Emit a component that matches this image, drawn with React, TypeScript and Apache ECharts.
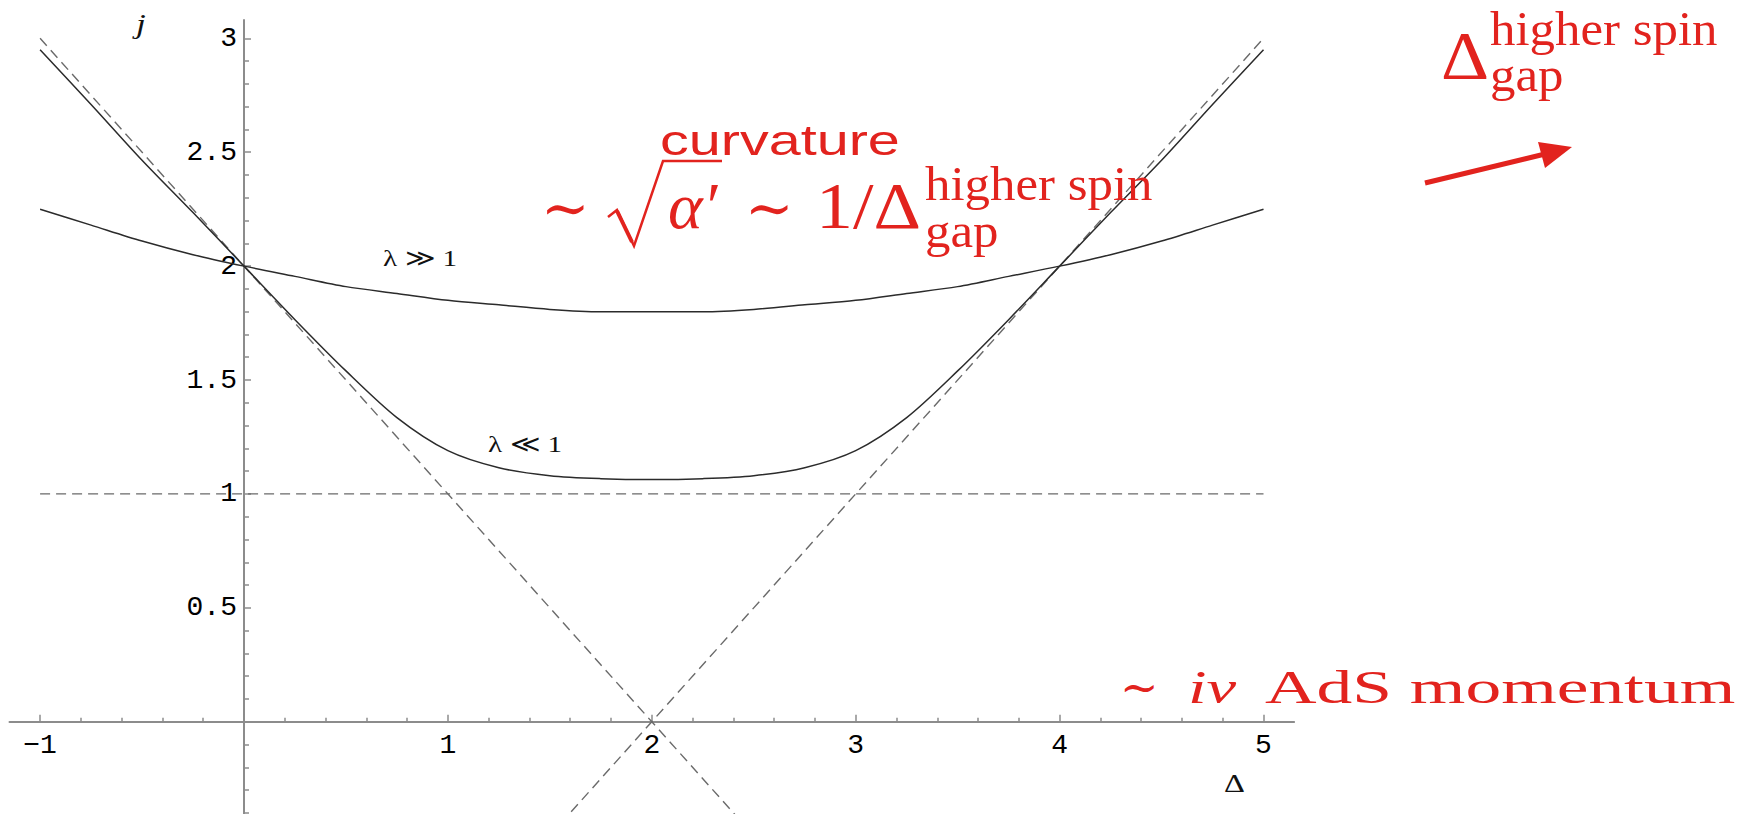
import React, { useEffect, useRef } from 'react';
import * as echarts from 'echarts';

// Conformal dimension Δ sampled along both trajectories
const deltaValues = [-1, -0.75, -0.5, -0.25, 0, 0.25, 0.5, 0.75, 1, 1.25, 1.5, 1.75, 2, 2.25, 2.5, 2.75, 3, 3.25, 3.5, 3.75, 4, 4.25, 4.5, 4.75, 5];
// Spin j on the strong-coupling trajectory (λ ≫ 1)
const jStrong = [2.25, 2.18, 2.11, 2.05, 2.0, 1.955, 1.91, 1.88, 1.85, 1.83, 1.81, 1.8, 1.8, 1.8, 1.81, 1.83, 1.85, 1.88, 1.91, 1.955, 2.0, 2.05, 2.11, 2.18, 2.25];
// Spin j on the weak-coupling trajectory (λ ≪ 1)
const jWeak = [2.95, 2.71, 2.465, 2.235, 2.0, 1.765, 1.54, 1.335, 1.19, 1.115, 1.08, 1.067, 1.063, 1.067, 1.08, 1.115, 1.19, 1.335, 1.54, 1.765, 2.0, 2.235, 2.465, 2.71, 2.95];

// Dashed asymptotes: j = 2 − Δ, j = Δ − 2 and j = 1
const asymptoteFalling = [[-1, 3], [2, 0], [2.5, -0.5]];
const asymptoteRising = [[1.5, -0.5], [2, 0], [5, 3]];
const asymptoteFlat = [[-1, 1], [5, 1]];

// Axis ticks and labels
const xMajorTicks = [-1, 0, 1, 2, 3, 4, 5];
const xTickLabels = [-1, 1, 2, 3, 4, 5];
const xMinorTicks = [-0.8, -0.6, -0.4, -0.2, 0.2, 0.4, 0.6, 0.8, 1.2, 1.4, 1.6, 1.8, 2.2, 2.4, 2.6, 2.8, 3.2, 3.4, 3.6, 3.8, 4.2, 4.4, 4.6, 4.8];
const yMajorTicks = [0.5, 1, 1.5, 2, 2.5, 3];
const yMinorTicks = [-0.4, -0.3, -0.2, -0.1, 0.1, 0.2, 0.3, 0.4, 0.6, 0.7, 0.8, 0.9, 1.1, 1.2, 1.3, 1.4, 1.6, 1.7, 1.8, 1.9, 2.1, 2.2, 2.3, 2.4, 2.6, 2.7, 2.8, 2.9];

const RED = '#e2231e';
const AXIS_GREY = '#8c8c8c';
const SERIF = "'Liberation Serif', 'DejaVu Serif', serif";
const SANS = "'Liberation Sans', Arial, sans-serif";
const MATH = "'DejaVu Serif', 'Liberation Serif', serif";

// Plot frame in pixels and the data window it shows
const X_MIN = -1.15, X_MAX = 5.15, Y_MIN = -0.42, Y_MAX = 3.08;
const PLOT = { left: 9.5, top: 20.1, width: 1284.6, height: 797.3 };
const ORIGIN_X = PLOT.left + ((0 - X_MIN) / (X_MAX - X_MIN)) * PLOT.width;
const ORIGIN_Y = PLOT.top + ((Y_MAX - 0) / (Y_MAX - Y_MIN)) * PLOT.height;

// Text placed by its left edge and alphabetic baseline, optionally stretched horizontally
function txt(text: string, left: number, baseline: number, size: number, opts: any = {}) {
  const family = opts.family || SERIF;
  const shift = family === SANS ? 0.3465 : 0.3375;
  return {
    type: 'text',
    x: left,
    y: baseline - shift * size,
    scaleX: opts.scaleX ?? 1,
    silent: true,
    z: 10,
    style: {
      text,
      font: `${opts.italic ? 'italic ' : ''}${size}px ${family}`,
      fill: opts.color || RED,
      textAlign: 'left',
      textVerticalAlign: 'middle',
    },
  };
}

const fmt = (v: number) => (v < 0 ? '\u2212' + Math.abs(v) : String(v));

function buildOption(): any {
  const tickLabelStyle = {
    fontFamily: "'Liberation Mono', 'DejaVu Sans Mono', monospace",
    fontSize: 28,
    color: '#000',
  };
  const gridBase = { containLabel: false, outerBoundsMode: 'none' };
  // 0: data frame, 1–2: frame whose bottom edge is j = 0, 3–4: frame whose left edge is Δ = 0
  const xGrid = { ...gridBase, left: PLOT.left, top: PLOT.top, width: PLOT.width, height: ORIGIN_Y - PLOT.top };
  const yGrid = { ...gridBase, left: ORIGIN_X, top: PLOT.top, width: 1000, height: PLOT.height };
  const grids = [{ ...gridBase, ...PLOT }, xGrid, xGrid, yGrid, yGrid];

  const hiddenX = (gridIndex: number) => ({ type: 'value', gridIndex, min: X_MIN, max: X_MAX, show: false });
  const hiddenY = (gridIndex: number) => ({ type: 'value', gridIndex, min: Y_MIN, max: Y_MAX, show: false });
  const line = { color: AXIS_GREY, width: 1.5 };

  const xAxes = [
    hiddenX(0),
    {
      type: 'value', gridIndex: 1, min: X_MIN, max: X_MAX, position: 'bottom', splitLine: { show: false },
      axisLine: { show: true, onZero: false, lineStyle: { color: AXIS_GREY, width: 2 } },
      axisTick: { show: true, inside: true, length: 7, customValues: xMajorTicks, lineStyle: line },
      axisLabel: { show: true, customValues: xTickLabels, formatter: fmt, margin: 10, ...tickLabelStyle },
    },
    {
      type: 'value', gridIndex: 2, min: X_MIN, max: X_MAX, position: 'bottom', splitLine: { show: false },
      axisLine: { show: false, onZero: false },
      axisTick: { show: true, inside: true, length: 4, customValues: xMinorTicks, lineStyle: line },
      axisLabel: { show: false },
    },
    hiddenX(3),
    hiddenX(4),
  ];
  const yAxes = [
    hiddenY(0),
    hiddenY(1),
    hiddenY(2),
    {
      type: 'value', gridIndex: 3, min: Y_MIN, max: Y_MAX, position: 'left', splitLine: { show: false },
      axisLine: { show: true, onZero: false, lineStyle: { color: AXIS_GREY, width: 2 } },
      axisTick: { show: true, inside: true, length: 7, customValues: yMajorTicks, lineStyle: line },
      axisLabel: { show: true, customValues: yMajorTicks, formatter: fmt, margin: 7, ...tickLabelStyle },
    },
    {
      type: 'value', gridIndex: 4, min: Y_MIN, max: Y_MAX, position: 'left', splitLine: { show: false },
      axisLine: { show: false, onZero: false },
      axisTick: { show: true, inside: true, length: 5, customValues: yMinorTicks, lineStyle: line },
      axisLabel: { show: false },
    },
  ];

  const curve = (name: string, ys: number[]) => ({
    name, type: 'line', xAxisIndex: 0, yAxisIndex: 0, smooth: 0.3, showSymbol: false, silent: true, z: 3,
    data: deltaValues.map((d, i) => [d, ys[i]]),
    lineStyle: { color: '#2b2b2b', width: 1.5 },
  });
  const dashed = (name: string, pts: number[][]) => ({
    name, type: 'line', xAxisIndex: 0, yAxisIndex: 0, showSymbol: false, silent: true, z: 2,
    data: pts,
    lineStyle: { color: '#6a6a6a', width: 1.4, type: [10, 6] },
  });

  return {
    animation: false,
    backgroundColor: '#ffffff',
    grid: grids,
    xAxis: xAxes,
    yAxis: yAxes,
    series: [
      dashed('j = 2 − Δ', asymptoteFalling),
      dashed('j = Δ − 2', asymptoteRising),
      dashed('j = 1', asymptoteFlat),
      curve('λ ≫ 1', jStrong),
      curve('λ ≪ 1', jWeak),
    ],
    graphic: [
      // axis names
      txt('j', 136, 33, 27, { italic: true, color: '#111', scaleX: 1.3 }),
      txt('Δ', 1224, 792, 26, { color: '#111', scaleX: 1.25 }),
      // trajectory labels
      txt('λ ≫ 1', 383, 266, 24, { color: '#111', scaleX: 1.22 }),
      txt('λ ≪ 1', 488, 452, 24, { color: '#111', scaleX: 1.22 }),

      // curvature ~ √α′ ~ 1/Δ_gap^higher spin
      txt('curvature', 660, 155, 42, { family: SANS, scaleX: 1.37 }),
      txt('∼', 541, 228, 58, { family: MATH }),
      {
        type: 'polyline', silent: true, z: 10,
        shape: { points: [[608, 217], [617, 210], [634, 246], [663, 161], [722, 161]] },
        style: { stroke: RED, lineWidth: 2.5, fill: 'none', lineJoin: 'miter' },
      },
      {
        type: 'line', silent: true, z: 10,
        shape: { x1: 617, y1: 211, x2: 632, y2: 242 },
        style: { stroke: RED, lineWidth: 4 },
      },
      txt('α′', 668, 228, 66, { italic: true }),
      txt('∼', 745, 228, 58, { family: MATH }),
      txt('1/Δ', 816, 228, 66, { scaleX: 1.12 }),
      txt('higher spin', 925, 200, 48, { scaleX: 1.06 }),
      txt('gap', 925, 247, 48, { scaleX: 1.06 }),

      // Δ_gap^higher spin with arrow
      txt('Δ', 1441, 78, 68, { scaleX: 1.1 }),
      txt('higher spin', 1490, 45, 48, { scaleX: 1.06 }),
      txt('gap', 1490, 91, 48, { scaleX: 1.06 }),
      {
        type: 'line', silent: true, z: 10,
        shape: { x1: 1425, y1: 183, x2: 1545, y2: 154 },
        style: { stroke: RED, lineWidth: 5 },
      },
      {
        type: 'polygon', silent: true, z: 10,
        shape: { points: [[1572, 147], [1538, 142], [1545, 168]] },
        style: { fill: RED },
      },

      // ~ iν AdS momentum
      txt('∼', 1120, 703, 46, { family: MATH }),
      txt('iν', 1188, 703, 47, { italic: true, scaleX: 1.42 }),
      txt('AdS momentum', 1265, 703, 47, { scaleX: 1.52 }),
    ],
  };
}

export default function App() {
  const ref = useRef<HTMLDivElement>(null);
  useEffect(() => {
    if (!ref.current) return;
    const chart = echarts.init(ref.current, null, { renderer: 'svg' });
    chart.setOption(buildOption());
    return () => chart.dispose();
  }, []);
  return (
    <div
      ref={ref}
      style={{ position: 'fixed', left: 0, top: 0, width: 1749, height: 814, background: '#ffffff' }}
    />
  );
}
